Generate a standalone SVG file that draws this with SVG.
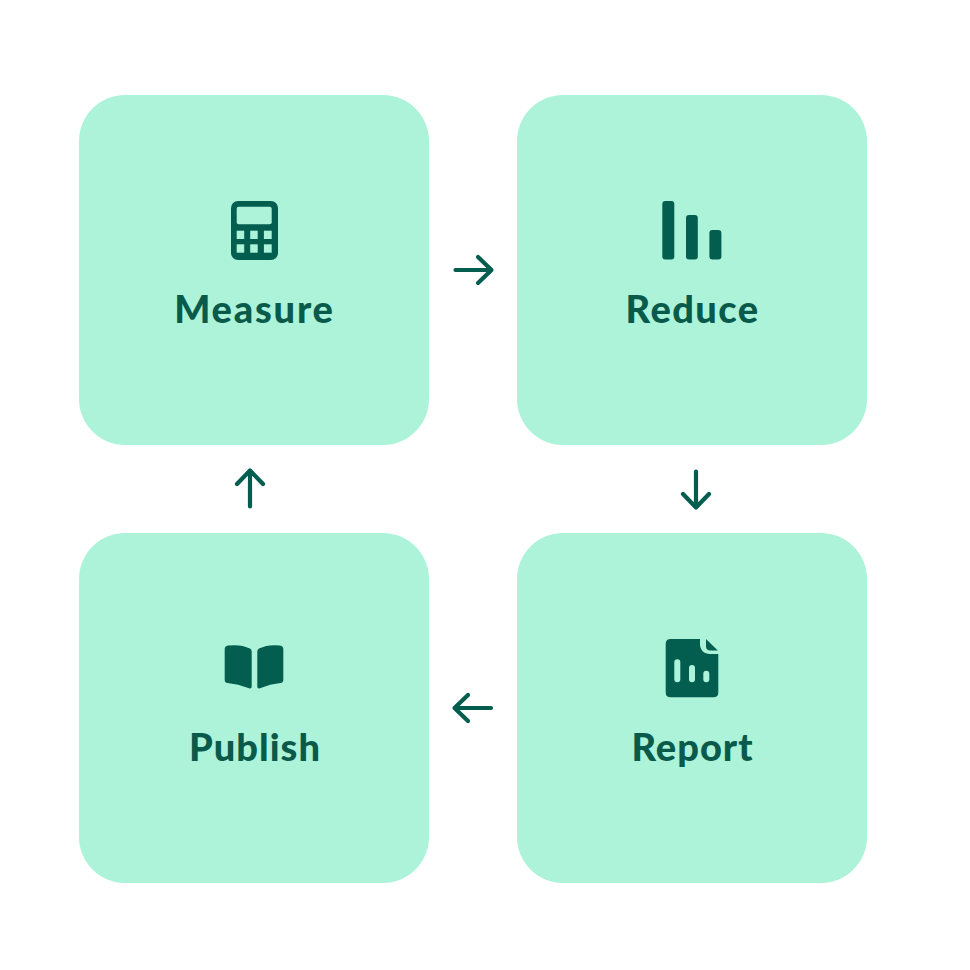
<svg xmlns="http://www.w3.org/2000/svg" width="970" height="970" viewBox="0 0 970 970">
<style>
.card{fill:#acf3d9}
.ic{fill:#035e50}
.cut{fill:#acf3d9}
.lbl{font-family:"Lato","Liberation Sans",sans-serif;font-weight:900;font-size:38px;fill:#0a5a4c;text-anchor:middle;letter-spacing:1px}
.arr{fill:none;stroke:#035e50;stroke-width:4.200;stroke-linecap:round;stroke-linejoin:round}
</style>
<rect width="970" height="970" fill="#fff"/>
<g id="connectors">
<path class="arr" d="M455.500 270H491M478 257L491.500 270L478 283"/>
<path class="arr" d="M696 471.500V507M683 494L696 507.500L709 494"/>
<path class="arr" d="M491 708H455.500M468 695L454.500 708L468 721"/>
<path class="arr" d="M250 506.500V471M237 484L250 470.500L263 484"/>
</g>
<g id="measure">
<rect class="card" x="79" y="95" width="350" height="350" rx="46"/>
<rect class="ic" x="231" y="201" width="47" height="59" rx="7"/>
<rect class="cut" x="236.700" y="206.700" width="35" height="17.600" rx="2"/>
<rect class="cut" x="236.700" y="230.700" width="7.500" height="8.300"/><rect class="cut" x="250.200" y="230.700" width="7.500" height="8.300"/><rect class="cut" x="263.900" y="230.700" width="7.800" height="8.300"/>
<rect class="cut" x="236.700" y="244.300" width="7.500" height="8.400"/><rect class="cut" x="250.200" y="244.300" width="7.500" height="8.400"/><rect class="cut" x="263.900" y="244.300" width="7.800" height="8.400"/>
<text class="lbl" x="254.500" y="323" style="letter-spacing:1.800px">Measure</text>
</g>
<g id="reduce">
<rect class="card" x="517" y="95" width="350" height="350" rx="46"/>
<rect class="ic" x="662.300" y="201" width="12" height="58.500" rx="3"/>
<rect class="ic" x="686" y="215" width="11.800" height="44.500" rx="3"/>
<rect class="ic" x="709.400" y="230" width="12" height="29.500" rx="3"/>
<text class="lbl" x="692.500" y="323" style="letter-spacing:1.400px">Reduce</text>
</g>
<g id="report">
<rect class="card" x="517" y="533" width="350" height="350" rx="46"/>
<path class="ic" d="M670.500 639H700V644C700 650 704 654 710 654H718.300V692.500Q718.300 697.300 713.500 697.300H670.500Q665.700 697.300 665.700 692.500V643.800Q665.700 639 670.500 639Z"/>
<path class="ic" d="M706 639L717.800 650.500H710.500Q706 650.500 706 646Z"/>
<rect class="cut" x="674.300" y="659.300" width="6" height="23" rx="3"/>
<rect class="cut" x="689" y="665" width="6" height="17.300" rx="3"/>
<rect class="cut" x="703.300" y="670.700" width="6" height="11.600" rx="3"/>
<text class="lbl" x="692.500" y="761">Report</text>
</g>
<g id="publish">
<rect class="card" x="79" y="533" width="350" height="350" rx="46"/>
<path class="ic" d="M228 645.500Q241 644 250 648.500Q251.700 649.500 251.700 651.500V686.500Q251.700 689.200 249 688.300Q238 684 227.500 683Q224.700 682.500 224.700 680V649Q224.700 646 228 645.500Z"/>
<path class="ic" d="M280 645.500Q268 644 259 648.500Q257.300 649.500 257.300 651.500V686.500Q257.300 689.200 260 688.300Q270 684 280.500 683Q283.300 682.500 283.300 680V649Q283.300 646 280 645.500Z"/>
<text class="lbl" x="255" y="761">Publish</text>
</g>
</svg>
